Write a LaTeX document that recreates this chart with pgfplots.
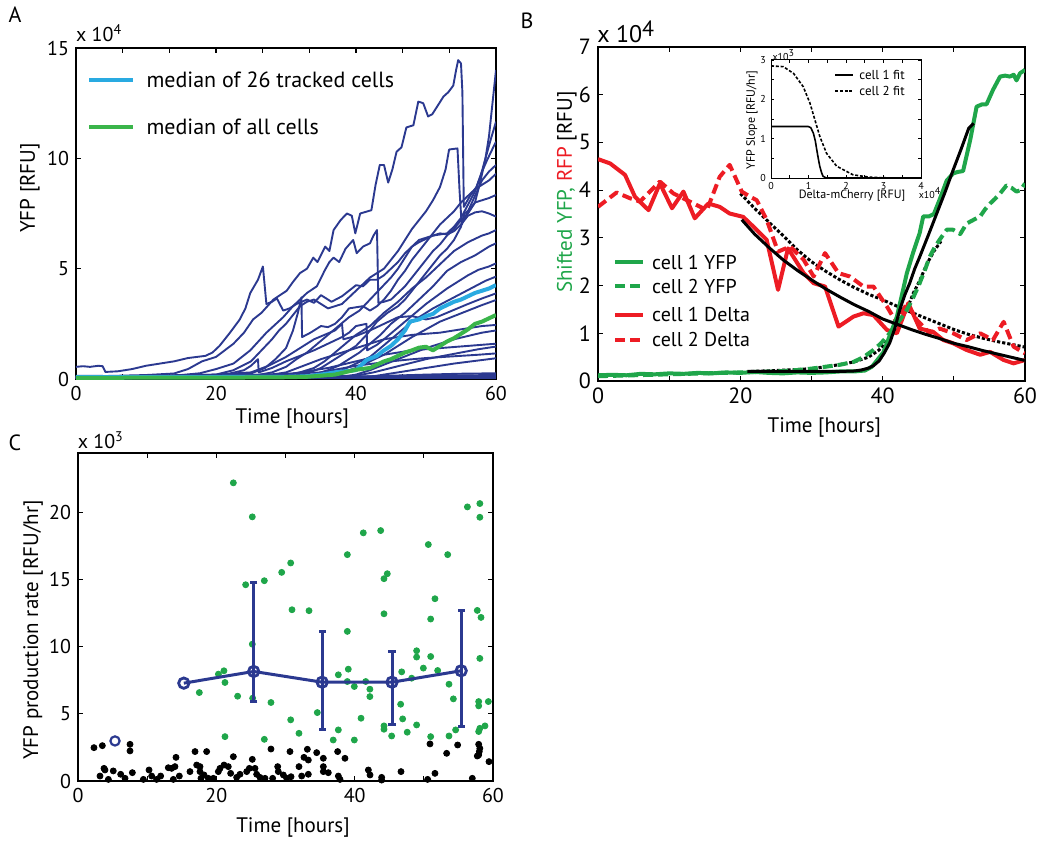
\documentclass[border=0pt]{standalone}
\usepackage{fontspec}
\setmainfont{PT Sans}
\usepackage{pgfplots}
\pgfplotsset{compat=1.18}
\definecolor{navy}{HTML}{2B3990}
\definecolor{lblue}{HTML}{29AAE1}
\definecolor{gA}{HTML}{3AB54A}
\definecolor{gB}{HTML}{1FA64A}
\definecolor{rB}{HTML}{ED1C24}
\newcommand{\fs}[1]{\fontsize{#1}{#1}\selectfont}
\pgfplotsset{
  fig/.style={
    scale only axis,
    clip mode=individual,
    axis line style={line width=0.6pt},
    every tick/.style={line width=0.6pt, black},
    major tick length=2.4pt, minor tick length=2.4pt,
    tick align=inside, tick pos=both,
    /pgf/number format/assume math mode=true,
    scaled ticks=false,
    tick label style={font=\fs{10}},
    label style={font=\fs{10.5}},
    ylabel style={anchor=center},
    xlabel style={anchor=center},
  },
  tr/.style={navy, line width=0.95pt, line join=round},
  eb/.style={navy, line width=1.5pt, mark=-, mark size=1.8pt, mark options={line width=1.5pt}},
}
\begin{document}
\begin{tikzpicture}
\useasboundingbox (0,0) rectangle (519.5pt,421.5pt);
\node[font=\fs{11}] at (7.5pt,414pt) {A};
\node[font=\fs{11}] at (263.5pt,411pt) {B};
\node[font=\fs{11}] at (7.5pt,200pt) {C};
% ---------------- Panel A ----------------
\begin{axis}[fig, at={(38pt,232pt)}, anchor=south west, width=210pt, height=165.5pt,
  xmin=0, xmax=60, ymin=0, ymax=15,
  xtick={0,20,40,60}, minor xtick={6.667,13.333,26.667,33.333,46.667,53.333},
  ytick={0,5,10,15},
  xlabel={Time [hours]}, ylabel={YFP [RFU]},
  xlabel style={at={(axis description cs:0.515,-0.12)}},
  ylabel style={at={(axis description cs:-0.11,0.577)}},
]
\addplot[tr] coordinates {(0,0.12)(5,0.14)(10,0.18)(14,0.25)(16,0.45)(18,0.8)(20,1.0)(22.5,1.6)(24,2.1)(25.3,2.7)(26.5,3.0)(28.2,3.6)(30.1,4.0)(31,4.4)(32,4.8)(33,5.0)(33.9,5.5)(34.5,5.3)(35.6,6.0)(36.2,5.8)(36.8,6.75)(37.8,7.2)(38.7,7.5)(39.4,7.4)(39.9,6.6)(40.6,7.5)(42.2,7.65)(42.8,8.8)(43.4,9.7)(44,9.7)(44.6,8.9)(45.2,9.5)(45.8,10.3)(46.5,10.5)(47.2,11.4)(48.2,11.5)(48.9,12.57)(49.6,12.5)(50.3,11.9)(50.9,12.0)(51.5,12.3)(52.5,12.8)(53.2,13.0)(53.9,13.3)(54.3,14.0)(54.6,14.45)(55.0,14.3)(55.2,13.0)(55.4,7.8)(56.3,8.3)(57.2,8.7)(58,9.4)(58.7,9.9)(59.3,10.3)(60,10.75)};
\addplot[tr] coordinates {(0,0.55)(1,0.58)(2,0.55)(3.2,0.6)(3.8,0.58)(4.2,0.32)(6,0.35)(8,0.45)(10,0.6)(12,0.7)(14,0.8)(16,0.95)(18.5,1.05)(19.5,1.2)(20.5,1.5)(22,2.1)(23.4,2.7)(24.2,3.2)(24.9,3.9)(26,4.5)(26.7,5.1)(27.2,3.4)(28,3.5)(28.7,3.65)(29.6,3.1)(30.5,3.2)(31.5,3.4)(33,3.6)(34,3.45)(35,3.8)(36.5,3.5)(38,3.75)(39,4.0)(40,4.25)(41,4.2)(42,4.5)(43,4.5)(44,4.7)(45,5.0)(46,5.3)(47,5.7)(48,6.0)(49,6.2)(50,6.35)(51,6.5)(52,6.6)(53,6.55)(54,6.7)(55,7.0)(56,7.4)(57,7.55)(58,7.6)(59,7.5)(60,7.36)};
\addplot[tr] coordinates {(0,0.1)(8,0.12)(15,0.18)(17.7,0.26)(20,0.45)(22.5,0.7)(24.9,1.3)(27.2,2.1)(29.6,2.8)(31,3.3)(32,3.6)(33,3.9)(34.4,4.2)(35.5,4.9)(36.2,5.3)(36.8,5.5)(37.6,5.3)(38.5,5.9)(39.6,6.3)(40.1,5.7)(41,6.0)(42,6.15)(42.5,6.5)(43,6.75)(43.2,3.45)(44,3.5)(45,3.6)(46,3.9)(47,4.2)(48,4.6)(49,5.0)(50,5.4)(51,5.8)(52,6.1)(53,6.5)(54,6.8)(55,7.2)(56,7.5)(57,8.0)(58,8.1)(59,8.2)(60,8.34)};
\addplot[tr] coordinates {(0,0.05)(10,0.06)(20,0.08)(25,0.12)(28,0.3)(30,0.55)(31.5,0.9)(33,1.2)(34.5,1.6)(36,2.0)(37.5,2.4)(39,2.8)(40.5,3.1)(42,3.6)(43.5,4.1)(45,4.6)(46,5.0)(47,5.5)(48,6.0)(49,6.3)(50,6.4)(51,6.5)(52,6.55)(53,6.6)(54,6.9)(55,7.3)(56,7.9)(57,8.5)(57.8,9.2)(58.5,10.0)(59.2,10.8)(60,11.66)};
\addplot[tr] coordinates {(0,0.05)(10,0.05)(20,0.07)(30,0.1)(33,0.25)(35,0.5)(37,0.9)(39,1.3)(40,1.5)(41.5,2.0)(43,2.6)(44.5,3.0)(46,3.3)(47,3.6)(48,4.0)(49,4.4)(50,4.8)(51,5.2)(52,5.6)(53,5.9)(54,6.3)(55,6.9)(55.5,7.5)(56.3,7.7)(57,8.0)(57.8,9.0)(58.5,10.0)(59,11.0)(59.5,12.5)(60,14.0)};
\addplot[tr] coordinates {(0,0.1)(10,0.12)(20,0.2)(22.5,0.4)(25,0.8)(26.5,1.3)(28,1.8)(29,2.2)(30,2.5)(31,2.9)(32,3.3)(33,3.5)(34,3.6)(35,3.4)(36,3.2)(37,3.3)(38,3.4)(39,3.7)(40,4.0)(41,4.3)(42,4.6)(43,4.8)(44,5.0)(45,5.4)(46,5.8)(47,6.3)(48,6.8)(49,7.2)(50,7.6)(51,8.1)(52,8.7)(52.8,9.5)(53.3,10.4)(54.5,10.45)(54.8,8.5)(55.1,7.0)(56,7.6)(57,8.3)(58,9.0)(59,9.4)(60,9.7)};
\addplot[tr] coordinates {(0,0.1)(10,0.1)(20,0.15)(25,0.25)(27,0.5)(28.5,0.9)(30,1.4)(31,2.2)(31.7,3.0)(32.2,3.7)(32.3,1.9)(33.5,2.1)(35,2.4)(36,2.35)(37,2.5)(38,2.8)(39,3.2)(40,3.25)(41,3.3)(42,3.1)(43,3.3)(44,3.6)(45,4.0)(46,4.5)(47,4.9)(48,5.4)(49,5.8)(50,6.2)(51,6.6)(52,7.0)(53,7.3)(54,7.6)(55,8.0)(56,8.3)(57,8.6)(58,8.8)(59,9.0)(60,9.3)};
\addplot[tr] coordinates {(0,0.08)(15,0.08)(25,0.1)(30,0.15)(32,0.3)(34,0.5)(35.5,0.8)(37,1.2)(38.5,1.6)(40,2.0)(41,2.2)(42,2.4)(43,2.7)(44,3.0)(45,3.25)(46,3.5)(47,3.8)(48,4.1)(49,4.35)(50,4.6)(51,4.9)(52,5.2)(53,5.5)(54,5.8)(55,6.0)(56,6.2)(57,6.35)(58,6.5)(59,6.6)(60,6.75)};
\addplot[tr] coordinates {(0,0.05)(20,0.06)(30,0.08)(32,0.1)(34,0.2)(36,0.4)(37.5,0.6)(39,0.9)(40.5,1.2)(42,1.6)(43.5,2.0)(45,2.5)(46,2.75)(47,3.0)(48,3.3)(49,3.6)(50,3.9)(51,4.2)(52,4.55)(53,4.9)(54,5.1)(55,5.3)(56,5.45)(57,5.6)(58,5.8)(59,6.0)(60,6.15)};
\addplot[tr] coordinates {(0,0.1)(10,0.1)(20,0.15)(22,0.25)(24,0.4)(25,0.6)(26,0.9)(26.1,0.3)(28,0.5)(30,0.8)(32,1.05)(34,1.3)(36,1.6)(38,1.9)(39,2.1)(40,2.4)(41.5,2.5)(41.6,1.3)(43,1.55)(44,1.8)(45.5,2.2)(47,2.6)(48.5,3.0)(50,3.4)(51.5,3.75)(53,4.1)(54.5,4.4)(56,4.7)(57.5,4.95)(59,5.1)(60,5.24)};
\addplot[tr] coordinates {(0,0.05)(20,0.05)(34,0.1)(36,0.25)(38,0.4)(40,0.7)(42,1.0)(43.5,1.4)(45,1.8)(46.5,2.2)(48,2.6)(49.5,2.9)(51,3.2)(52.5,3.45)(54,3.7)(55.5,3.95)(57,4.2)(58.5,4.45)(60,4.64)};
\addplot[tr] coordinates {(0,0.1)(10,0.12)(20,0.2)(25,0.3)(27.5,0.6)(30,1.0)(32,1.4)(34,1.8)(35.5,2.0)(37,2.2)(38,2.5)(38.2,1.8)(40,1.95)(42,2.2)(44,2.5)(46,2.8)(48,2.85)(50,2.7)(51.5,2.8)(53,3.0)(54.5,3.2)(56,3.4)(58,3.65)(60,3.88)};
\addplot[tr] coordinates {(0,0.05)(20,0.05)(36,0.15)(38,0.3)(40,0.5)(42,0.8)(44,1.1)(46,1.5)(48,1.9)(50,2.25)(52,2.6)(54,2.85)(56,3.1)(58,3.35)(60,3.58)};
\addplot[tr] coordinates {(0,0.1)(20,0.15)(28,0.2)(30,0.3)(32.5,0.6)(35,0.9)(37.5,1.15)(40,1.4)(42,1.6)(44,1.8)(46,1.9)(48,2.0)(50,2.05)(52,2.1)(54,2.2)(56,2.3)(58,2.4)(60,2.45)};
\addplot[tr] coordinates {(0,0.05)(20,0.05)(38,0.1)(40,0.2)(42,0.4)(44,0.65)(46,0.9)(48,1.15)(50,1.4)(52,1.6)(54,1.8)(56,1.95)(58,2.1)(60,2.2)};
\addplot[tr] coordinates {(0,0.08)(20,0.1)(30,0.2)(33,0.35)(36,0.5)(38,0.65)(40,0.8)(42,0.95)(44,1.1)(46,1.2)(48,1.3)(50,1.35)(52,1.4)(54,1.45)(56,1.5)(58,1.55)(60,1.6)};
\addplot[tr] coordinates {(0,0.05)(20,0.05)(40,0.15)(42.5,0.3)(45,0.5)(47.5,0.7)(50,0.9)(52.5,1.05)(55,1.2)(57.5,1.35)(60,1.47)};
\addplot[tr] coordinates {(0,0.1)(20,0.12)(35,0.3)(37.5,0.45)(40,0.6)(42.5,0.7)(45,0.8)(47.5,0.88)(50,0.95)(52.5,1.0)(55,1.05)(57.5,1.1)(60,1.16)};
\addplot[tr] coordinates {(0,0.05)(20,0.05)(42,0.1)(45,0.25)(48,0.4)(51,0.55)(54,0.7)(57,0.82)(60,0.94)};
\addplot[tr] coordinates {(0,0.02)(20,0.05)(40,0.1)(45,0.15)(50,0.2)(55,0.24)(60,0.26)};
\addplot[tr] coordinates {(0,0.08)(20,0.1)(40,0.12)(50,0.15)(60,0.18)};
\addplot[tr] coordinates {(0,0.03)(30,0.03)(60,0.03)};
\addplot[tr] coordinates {(0,0.15)(10,0.12)(20,0.1)(40,0.08)(60,0.1)};
% medians
\addplot[lblue, line width=2pt, line join=round] coordinates {(0,0.08)(10,0.08)(20,0.09)(30,0.1)(33,0.12)(35,0.2)(37,0.3)(40,0.4)(41.5,0.86)(43,1.05)(44,1.3)(45,1.5)(46,1.8)(47,2.2)(47.7,2.6)(49,2.7)(50,2.85)(51,2.95)(52,3.2)(53,3.35)(54,3.5)(55,3.6)(56,3.75)(57,3.9)(58,4.0)(59,4.1)(60,4.26)};
\addplot[gA, line width=2pt, line join=round] coordinates {(0,0.05)(10,0.06)(20,0.06)(30,0.08)(33,0.1)(35,0.15)(37,0.2)(39,0.35)(40,0.42)(42,0.5)(43,0.65)(44,0.8)(45,0.9)(46,1.05)(47,1.2)(48,1.3)(49,1.42)(50,1.46)(51,1.3)(52,1.5)(53,1.7)(54,1.85)(55,2.05)(56,2.25)(57,2.5)(58,2.6)(59,2.75)(60,2.9)};
\draw[lblue, line width=2pt] (axis description cs:0.031,0.903) -- (axis description cs:0.136,0.903);
\draw[gA, line width=2pt] (axis description cs:0.031,0.761) -- (axis description cs:0.136,0.761);
\node[anchor=west, font=\fs{11}, inner sep=0pt] at (axis description cs:0.167,0.903) {median of 26 tracked cells};
\node[anchor=west, font=\fs{11}, inner sep=0pt] at (axis description cs:0.167,0.761) {median of all cells};
\node[font=\fs{10}] at (axis description cs:0.055,1.045) {x 10\textsuperscript{4}};
\end{axis}
% ---------------- Panel B ----------------
\begin{axis}[fig, at={(299pt,231pt)}, anchor=south west, width=213.5pt, height=167pt,
  xmin=0, xmax=60, ymin=0, ymax=7,
  xtick={0,20,40,60}, minor xtick={10,30,50},
  ytick={0,1,2,3,4,5,6,7},
  tick label style={font=\fs{11}},
  xlabel={Time [hours]},
  ylabel={\textcolor{gB}{Shifted YFP,} \textcolor{rB}{RFP} [RFU]},
  xlabel style={at={(axis description cs:0.53,-0.14)}},
  ylabel style={at={(axis description cs:-0.073,0.566)}},
]
\addplot[black, line width=1.5pt, dash pattern=on 1.6pt off 1pt] coordinates {(20,3.93)(22,3.62)(24,3.33)(26,3.05)(28,2.75)(30,2.5)(32,2.3)(34,2.12)(36,1.96)(38,1.82)(40,1.7)(42,1.57)(44,1.44)(46,1.32)(48,1.2)(50,1.08)(52,0.98)(54,0.9)(56,0.83)(58,0.77)(60,0.71)};
\addplot[black, line width=1.5pt, dash pattern=on 1.6pt off 1pt] coordinates {(21.5,0.2)(25,0.22)(28,0.24)(30,0.26)(33,0.32)(36,0.4)(38,0.5)(39.5,0.65)(41,0.9)(42.3,1.2)(43.4,1.5)(44.3,1.84)(45.2,2.1)(46.2,2.45)(47.2,2.72)(48.2,2.93)};
\addplot[rB, line width=2pt, line join=round] coordinates {(0,4.65)(1.7,4.56)(3.8,4.32)(5.2,3.86)(7.1,3.58)(8.7,4.14)(10.4,3.62)(12,3.97)(13.6,3.41)(15.5,3.72)(17.1,3.65)(18.5,3.51)(20.4,3.44)(21.8,3.24)(23.7,2.96)(25.3,1.91)(26.7,2.78)(28.9,2.26)(30.3,2.05)(31.9,1.98)(33.8,1.14)(35.9,1.35)(37.3,1.42)(38.7,1.38)(40.6,1.07)(42,1.0)(43.6,1.63)(45.2,1.1)(47.1,1.03)(48.5,0.86)(49.9,0.79)(51.8,0.65)(53.7,0.55)(55.1,0.61)(57,0.44)(58.4,0.37)(60,0.44)};
\addplot[rB, line width=2pt, line join=round, dash pattern=on 5pt off 2.5pt] coordinates {(0,3.65)(2.6,3.95)(4.5,3.83)(5.9,3.76)(8.7,4.18)(10.6,3.93)(12.5,3.79)(15.3,3.58)(17.1,4.28)(18.5,4.53)(20.2,3.97)(21.4,3.86)(22.3,3.79)(23.7,3.38)(25.3,2.71)(27,2.82)(28.9,2.54)(30.3,2.19)(31.9,2.68)(33.8,2.26)(35.4,2.19)(37.3,1.98)(38.7,1.98)(40.6,1.56)(42,1.21)(43.4,1.63)(44.8,1.28)(46.6,1.0)(48,1.1)(49.9,1.0)(51.8,0.86)(53.7,1.0)(55.5,0.86)(57,1.24)(58.4,0.72)(60,0.58)};
\addplot[gB, line width=2pt, line join=round] coordinates {(0,0.12)(2,0.13)(4,0.12)(6,0.15)(8,0.14)(10,0.16)(12,0.15)(14,0.17)(16,0.16)(18,0.18)(20,0.17)(22,0.19)(24,0.17)(26,0.16)(28,0.18)(30,0.17)(32,0.18)(34,0.2)(36,0.2)(37.5,0.22)(38.5,0.3)(39.3,0.45)(40.1,0.6)(41,0.95)(42,1.35)(42.7,1.8)(43.4,2.26)(44.3,2.7)(45.2,3.1)(45.7,3.45)(46.5,3.45)(47.2,3.5)(48,3.8)(49,4.2)(49.9,4.35)(50.5,4.38)(51.3,4.4)(52.3,5.05)(53.2,5.75)(54,5.8)(54.6,5.8)(55.5,6.1)(56.5,6.38)(57.2,6.4)(57.9,6.38)(58.4,6.42)(58.8,6.3)(59.3,6.45)(60,6.52)};
\addplot[gB, line width=2pt, line join=round, dash pattern=on 5pt off 2.5pt] coordinates {(0,0.1)(5,0.12)(10,0.14)(15,0.16)(20,0.18)(25,0.2)(28,0.23)(30,0.26)(32,0.3)(34,0.34)(35.9,0.4)(37.3,0.5)(38.7,0.65)(39.7,0.78)(40.6,0.93)(41.5,1.1)(42.4,1.28)(43.4,1.49)(44.3,1.75)(45.2,2.05)(46,2.35)(46.6,2.6)(47.3,2.8)(48,2.96)(49,3.17)(49.9,3.17)(50.9,3.08)(51.8,3.3)(52.8,3.38)(53.7,3.45)(54.4,3.6)(55.1,3.72)(55.8,3.82)(56.5,3.93)(57.4,4.1)(58.1,4.05)(58.8,3.97)(59.4,4.0)(60,4.14)};
\addplot[black, line width=1.5pt] coordinates {(20.2,3.38)(22,3.08)(24,2.8)(26,2.54)(28,2.32)(30,2.12)(32,1.93)(34,1.76)(36,1.6)(38,1.46)(40,1.3)(42,1.19)(44,1.08)(46,0.98)(48,0.89)(50,0.79)(52,0.72)(54,0.64)(56,0.57)(58,0.5)(60,0.43)};
\addplot[black, line width=1.5pt] coordinates {(21,0.2)(25,0.2)(30,0.2)(34,0.2)(36,0.21)(37,0.23)(38,0.27)(38.7,0.32)(39.5,0.42)(40.2,0.58)(41,0.8)(41.7,1.1)(42.4,1.49)(43.1,1.8)(43.8,2.05)(44.5,2.35)(45.2,2.6)(46.4,3.05)(47.6,3.51)(48.8,3.97)(49.9,4.42)(51,4.85)(52.1,5.3)(52.8,5.4)};
\draw[gB, line width=2pt] (axis description cs:0.040,0.356) -- (axis description cs:0.105,0.356);
\draw[gB, line width=2pt, dash pattern=on 5pt off 2.5pt] (axis description cs:0.040,0.284) -- (axis description cs:0.105,0.284);
\draw[rB, line width=2pt] (axis description cs:0.040,0.198) -- (axis description cs:0.105,0.198);
\draw[rB, line width=2pt, dash pattern=on 5pt off 2.5pt] (axis description cs:0.040,0.123) -- (axis description cs:0.105,0.123);
\node[anchor=west, font=\fs{10}, inner sep=0pt] at (axis description cs:0.126,0.356) {cell 1 YFP};
\node[anchor=west, font=\fs{10}, inner sep=0pt] at (axis description cs:0.126,0.284) {cell 2 YFP};
\node[anchor=west, font=\fs{10}, inner sep=0pt] at (axis description cs:0.126,0.198) {cell 1 Delta};
\node[anchor=west, font=\fs{10}, inner sep=0pt] at (axis description cs:0.126,0.123) {cell 2 Delta};
\node[font=\fs{12}] at (axis description cs:0.065,1.045) {x 10\raisebox{0.55ex}{\fs{11}4}};
\end{axis}
% ---------------- Inset ----------------
\begin{axis}[fig, at={(385.5pt,332.5pt)}, anchor=south west, width=75pt, height=59pt,
  axis background/.style={fill=white},
  xmin=0, xmax=4, ymin=0, ymax=3,
  xtick={0,1,2,3,4}, ytick={0,1,2,3},
  minor x tick num=1, minor y tick num=1,
  major tick length=1.5pt, minor tick length=1.5pt,
  axis line style={line width=0.5pt}, every tick/.style={line width=0.4pt, black},
  tick label style={font=\fs{5}}, label style={font=\fs{6}},
  xticklabel style={yshift=1.2pt}, yticklabel style={xshift=1pt},
  xlabel={Delta-mCherry [RFU]}, ylabel={YFP Slope [RFU/hr]},
  xlabel style={at={(axis description cs:0.54,-0.15)}},
  ylabel style={at={(axis description cs:-0.127,0.49)}},
]
\addplot[black, line width=0.8pt] coordinates {(0,1.31)(0.5,1.31)(0.99,1.31)(1.06,1.28)(1.13,1.14)(1.18,0.95)(1.22,0.72)(1.26,0.5)(1.3,0.3)(1.35,0.13)(1.39,0.04)(1.48,0)(4,0)};
\addplot[black, line width=0.8pt, dash pattern=on 1.5pt off 0.9pt] coordinates {(0,2.85)(0.33,2.83)(0.6,2.66)(0.86,2.32)(1.04,1.9)(1.17,1.48)(1.3,1.06)(1.48,0.63)(1.75,0.3)(2.19,0.08)(2.63,0.02)(3.2,0.0)(4,0)};
\draw[black, line width=0.9pt] (axis description cs:0.427,0.873) -- (axis description cs:0.547,0.873);
\draw[black, line width=0.9pt, dash pattern=on 1.5pt off 0.9pt] (axis description cs:0.427,0.737) -- (axis description cs:0.547,0.737);
\node[anchor=west, font=\fs{6.5}, inner sep=0pt] at (axis description cs:0.587,0.873) {cell 1 fit};
\node[anchor=west, font=\fs{6.5}, inner sep=0pt] at (axis description cs:0.587,0.737) {cell 2 fit};
\node[font=\fs{5}] at (axis description cs:0.085,1.045) {x10\textsuperscript{3}};
\node[font=\fs{5}] at (axis description cs:1.06,-0.125) {x10\textsuperscript{4}};
\end{axis}
% ---------------- Panel C ----------------
\begin{axis}[fig, at={(39pt,31pt)}, anchor=south west, width=207.5pt, height=164pt,
  xmin=0, xmax=60, ymin=0, ymax=24.4,
  xtick={0,20,40,60}, minor xtick={10,30,50},
  ytick={0,5,10,15,20},
  xlabel={Time [hours]}, ylabel={YFP production rate [RFU/hr]},
  xlabel style={at={(axis description cs:0.518,-0.143)}},
  ylabel style={at={(axis description cs:-0.108,0.46)}},
]
\addplot[only marks, mark=*, mark size=1.5pt, color=gB, mark options={draw=gB, fill=gB}] coordinates {(22.46,22.18)(25.2,19.65)(24.24,14.6)(26.94,14.9)(29.45,15.52)(30.75,16.22)(30.94,12.74)(33.4,12.67)(25.2,10.18)(20.3,7.95)(21.1,8.2)(21.25,7.33)(17.54,6.58)(23.08,6.31)(25.25,6.16)(27.9,5.84)(21.25,3.3)(26.94,3.1)(30.75,4.55)(31.95,3.55)(34.6,5.09)(37.64,3.8)(36.9,3.05)(37.64,7.9)(39.08,8.32)(38.94,7.4)(38.94,11.13)(38.94,16.84)(39.95,7.03)(39.95,3.05)(40.92,4.67)(41.25,18.46)(41.6,7.4)(42.2,6.83)(42.2,6.28)(43.76,18.63)(44.24,15.05)(44.72,15.42)(44.24,12.44)(44.24,4.1)(44.24,3.85)(45.35,3.35)(46.65,5.71)(46.8,8.12)(46.94,4.62)(47.6,3.63)(48.24,7.65)(48.96,9.69)(48.96,9.22)(48.96,4.17)(49.93,8.4)(50.65,17.59)(50.99,12.05)(50.99,9.26)(50.99,3.3)(51.61,13.56)(52,8.22)(53.45,16.84)(53.64,7.2)(54.27,6.11)(53.64,3.35)(54.6,3.8)(56.3,20.39)(58.1,20.64)(58.1,19.62)(57.73,12.69)(58.27,12.17)(58.1,9.12)(57.93,5.91)(57.93,5.59)(59.33,5.91)(57.93,3.68)(58.1,3.92)(58.84,4.1)};
\addplot[only marks, mark=*, mark size=1.5pt, color=black] coordinates {(2.31,2.48)(3.52,2.63)(7.52,2.73)(7.52,2.24)(3.18,0.37)(3.76,0.94)(3.9,0.82)(4.39,0.12)(5.1,0.75)(6.17,0.5)(6.8,0.2)(7.86,0.62)(9.45,0.12)(10.27,0.82)(10.65,0.37)(11.37,0.12)(11.95,0.37)(13.06,0.99)(13.54,0.94)(14.17,1.76)(14.02,1.07)(13.78,0.12)(14.65,0.37)(16.19,0.7)(16.92,2.19)(17.16,1.19)(17.64,1.07)(17.64,0.7)(17.78,0.2)(18.22,0.45)(18.6,2.19)(18.84,0.2)(19.57,0.2)(20.29,0.7)(20.53,0.94)(21.11,1.19)(21.73,1.07)(22.07,0.57)(22.46,1.81)(22.94,0.27)(23.42,0.5)(24.39,0.7)(24.77,0.94)(25.2,1.61)(25.59,0.94)(25.83,0.5)(26.31,0.27)(27.04,0.2)(27.9,2.38)(28.14,0.2)(28.87,1.07)(28.96,0.7)(29.69,0.45)(30.17,0.2)(30.65,2.19)(30.8,0.32)(31.95,1.07)(32.34,0.37)(32.67,1.76)(33.16,2.36)(33.3,1.56)(33.3,0.5)(34.51,2.11)(35.47,1.69)(35.47,1.07)(35.47,0.7)(36.19,0.62)(37.54,2.19)(37.64,0.37)(37.88,0.12)(38.6,1.69)(41.98,0.82)(42.22,0.45)(43.9,0.27)(43.9,0.07)(46.7,0.7)(50.55,0.12)(50.89,2.76)(51.61,0.57)(53.3,2.06)(54.89,2.68)(57.01,0.2)(57.93,2.73)(58.1,2.43)(58.02,2.19)(57.93,1.94)(57.73,1.86)(59.42,1.44)};
% error bars (low and high ends)
\addplot[eb] coordinates {(25.4,5.9)(25.4,14.8)};
\addplot[eb] coordinates {(35.3,3.8)(35.3,11.1)};
\addplot[eb] coordinates {(45.4,4.2)(45.4,9.6)};
\addplot[eb] coordinates {(55.4,4.05)(55.4,12.7)};
\addplot[navy, line width=1.5pt, mark=o, mark size=2.6pt, mark options={line width=1.4pt}] coordinates {(15.3,7.28)(25.4,8.15)(35.3,7.35)(45.4,7.35)(55.4,8.2)};
\addplot[navy, only marks, mark=o, mark size=2.3pt, mark options={line width=1.1pt}] coordinates {(5.35,2.98)};
\node[font=\fs{10}] at (axis description cs:0.055,1.04) {x 10\textsuperscript{3}};
\end{axis}
\end{tikzpicture}
\end{document}
